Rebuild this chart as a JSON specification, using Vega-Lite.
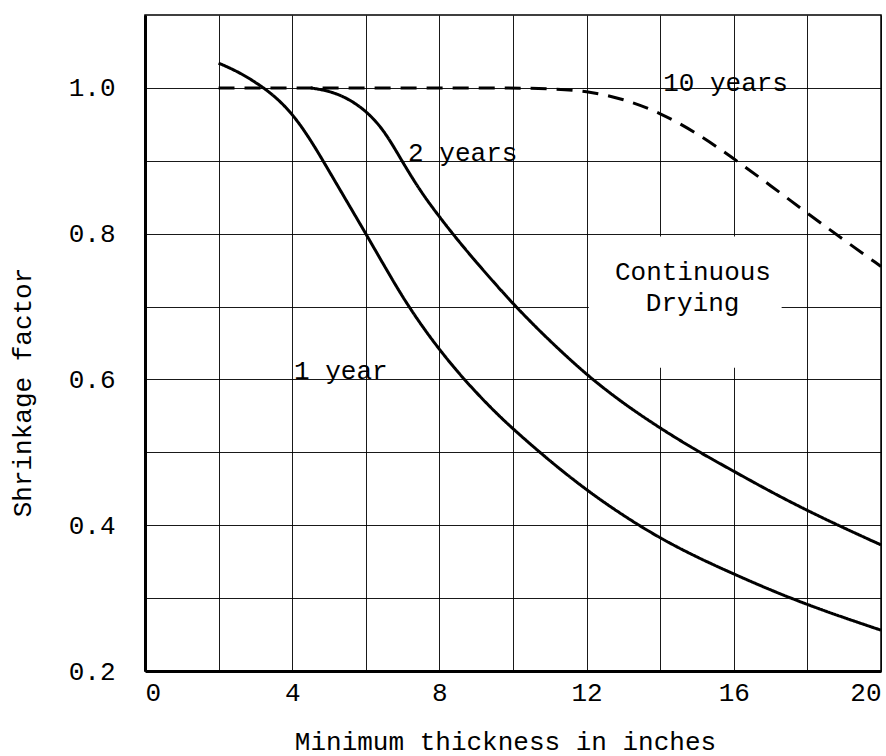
{
  "$schema": "https://vega.github.io/schema/vega-lite/v6.json",
  "width": 736,
  "height": 656,
  "autosize": {"type": "none"},
  "padding": {"left": 145, "top": 15, "right": 5, "bottom": 85},
  "background": "white",
  "config": {
    "view": {"stroke": "black", "strokeWidth": 1.5},
    "font": "Liberation Mono",
    "axis": {
      "labelFont": "Liberation Mono",
      "labelFontSize": 26,
      "labelColor": "black",
      "titleFont": "Liberation Mono",
      "titleFontSize": 26,
      "titleFontWeight": "normal",
      "titleColor": "black",
      "domainColor": "black",
      "domainWidth": 3,
      "gridColor": "black",
      "gridWidth": 1,
      "gridOpacity": 0.9,
      "ticks": false
    }
  },
  "datasets": {
    "curves": [
      {"series": "1 year", "x": 2, "y": 1.034},
      {"series": "1 year", "x": 2.5, "y": 1.023},
      {"series": "1 year", "x": 3, "y": 1.008},
      {"series": "1 year", "x": 3.5, "y": 0.99},
      {"series": "1 year", "x": 4, "y": 0.965},
      {"series": "1 year", "x": 4.5, "y": 0.929},
      {"series": "1 year", "x": 5, "y": 0.886},
      {"series": "1 year", "x": 5.5, "y": 0.843},
      {"series": "1 year", "x": 6, "y": 0.8},
      {"series": "1 year", "x": 6.5, "y": 0.756},
      {"series": "1 year", "x": 7, "y": 0.713},
      {"series": "1 year", "x": 7.5, "y": 0.675},
      {"series": "1 year", "x": 8, "y": 0.641},
      {"series": "1 year", "x": 8.5, "y": 0.61},
      {"series": "1 year", "x": 9, "y": 0.582},
      {"series": "1 year", "x": 9.5, "y": 0.556},
      {"series": "1 year", "x": 10, "y": 0.532},
      {"series": "1 year", "x": 11, "y": 0.488},
      {"series": "1 year", "x": 12, "y": 0.448},
      {"series": "1 year", "x": 13, "y": 0.413},
      {"series": "1 year", "x": 14, "y": 0.382},
      {"series": "1 year", "x": 15, "y": 0.356},
      {"series": "1 year", "x": 16, "y": 0.333},
      {"series": "1 year", "x": 17, "y": 0.311},
      {"series": "1 year", "x": 18, "y": 0.291},
      {"series": "1 year", "x": 19, "y": 0.273},
      {"series": "1 year", "x": 20, "y": 0.256},
      {"series": "2 years", "x": 4.5, "y": 1.0},
      {"series": "2 years", "x": 5, "y": 0.996},
      {"series": "2 years", "x": 5.5, "y": 0.986},
      {"series": "2 years", "x": 6, "y": 0.969},
      {"series": "2 years", "x": 6.5, "y": 0.942},
      {"series": "2 years", "x": 7, "y": 0.898},
      {"series": "2 years", "x": 7.5, "y": 0.857},
      {"series": "2 years", "x": 8, "y": 0.823},
      {"series": "2 years", "x": 8.5, "y": 0.791},
      {"series": "2 years", "x": 9, "y": 0.761},
      {"series": "2 years", "x": 9.5, "y": 0.732},
      {"series": "2 years", "x": 10, "y": 0.704},
      {"series": "2 years", "x": 10.5, "y": 0.678},
      {"series": "2 years", "x": 11, "y": 0.653},
      {"series": "2 years", "x": 12, "y": 0.606},
      {"series": "2 years", "x": 13, "y": 0.567},
      {"series": "2 years", "x": 14, "y": 0.533},
      {"series": "2 years", "x": 15, "y": 0.502},
      {"series": "2 years", "x": 16, "y": 0.474},
      {"series": "2 years", "x": 17, "y": 0.446},
      {"series": "2 years", "x": 18, "y": 0.42},
      {"series": "2 years", "x": 19, "y": 0.396},
      {"series": "2 years", "x": 20, "y": 0.373},
      {"series": "10 years", "x": 2, "y": 1.0},
      {"series": "10 years", "x": 4, "y": 1.0},
      {"series": "10 years", "x": 6, "y": 1.0},
      {"series": "10 years", "x": 8, "y": 1.0},
      {"series": "10 years", "x": 10, "y": 1.0},
      {"series": "10 years", "x": 11, "y": 0.999},
      {"series": "10 years", "x": 12, "y": 0.996},
      {"series": "10 years", "x": 13, "y": 0.985},
      {"series": "10 years", "x": 14, "y": 0.966},
      {"series": "10 years", "x": 15, "y": 0.938},
      {"series": "10 years", "x": 16, "y": 0.903},
      {"series": "10 years", "x": 17, "y": 0.866},
      {"series": "10 years", "x": 18, "y": 0.828},
      {"series": "10 years", "x": 19, "y": 0.791},
      {"series": "10 years", "x": 20, "y": 0.755}
    ],
    "labels": [
      {"text": "10 years", "x": 14.08, "y": 0.996},
      {"text": "2 years", "x": 7.15, "y": 0.9},
      {"text": "1 year", "x": 4.05, "y": 0.6},
      {"text": "Continuous", "x": 12.77, "y": 0.736},
      {"text": "Drying", "x": 13.61, "y": 0.694}
    ]
  },
  "layer": [
    {
      "data": {"name": "curves"},
      "mark": {"type": "line", "color": "black", "strokeWidth": 3, "interpolate": "basis"},
      "encoding": {
        "x": {
          "field": "x",
          "type": "quantitative",
          "scale": {"domain": [0, 20], "nice": false, "zero": false},
          "axis": {
            "values": [0, 2, 4, 6, 8, 10, 12, 14, 16, 18, 20],
            "labelExpr": "datum.value % 4 == 0 ? datum.label : ''",
            "labelFlush": true,
            "labelPadding": 8,
            "title": "Minimum thickness in inches",
            "titleX": 360,
            "titleY": 78,
            "titleAlign": "center",
            "titleBaseline": "alphabetic"
          }
        },
        "y": {
          "field": "y",
          "type": "quantitative",
          "scale": {"domain": [0.2, 1.1], "nice": false, "zero": false},
          "axis": {
            "values": [0.2, 0.3, 0.4, 0.5, 0.6, 0.7, 0.8, 0.9, 1.0],
            "labelExpr": "round(datum.value * 10) % 2 == 0 ? format(datum.value, '.1f') : ''",
            "labelPadding": 30,
            "labelBaseline": "middle",
            "title": "Shrinkage factor",
            "titleX": -123,
            "titleY": 377,
            "titleAlign": "center",
            "titleBaseline": "middle",
            "titleAngle": 270
          }
        },
        "strokeDash": {
          "field": "series",
          "type": "nominal",
          "scale": {"domain": ["1 year", "2 years", "10 years"], "range": [[1, 0], [1, 0], [16, 10]]},
          "legend": null
        }
      }
    },
    {
      "data": {"values": [{}]},
      "mark": {"type": "rect", "fill": "white", "stroke": null},
      "encoding": {
        "x": {"datum": 12.06, "type": "quantitative"},
        "x2": {"datum": 17.3},
        "y": {"datum": 0.616, "type": "quantitative"},
        "y2": {"datum": 0.796}
      }
    },
    {
      "data": {"name": "labels"},
      "mark": {"type": "text", "align": "left", "baseline": "alphabetic", "font": "Liberation Mono", "fontSize": 26, "color": "black"},
      "encoding": {
        "x": {"field": "x", "type": "quantitative"},
        "y": {"field": "y", "type": "quantitative"},
        "text": {"field": "text", "type": "nominal"}
      }
    }
  ]
}
